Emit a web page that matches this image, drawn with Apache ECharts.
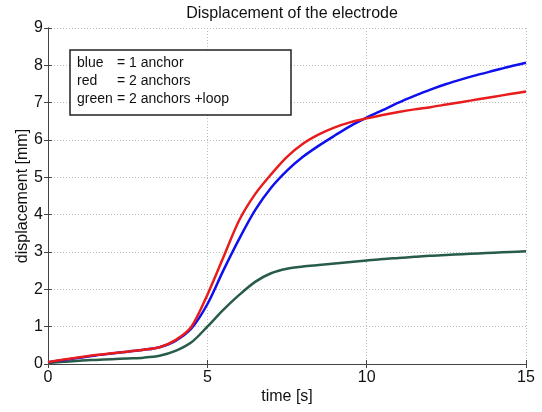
<!DOCTYPE html>
<html lang="en" style="height: 100%">
<head>
  <meta charset="utf-8">
</head>
<body style="height: 100%; margin: 0; background-color: #fff">
  <div id="container" style="width: 542px; height: 412px"></div>
  <script type="text/javascript" src="https://cdn.jsdelivr.net/npm/echarts@6/dist/echarts.min.js"></script>
  <script type="text/javascript">
    // time axis (s), sampled every 0.5 s
    var time = [0, 0.5, 1, 1.5, 2, 2.5, 3, 3.5, 4, 4.5, 5, 5.5, 6, 6.5, 7, 7.5, 8, 8.5, 9, 9.5,
      10, 10.5, 11, 11.5, 12, 12.5, 13, 13.5, 14, 14.5, 15];
    // displacement (mm)
    var blue = [0.05, 0.11, 0.17, 0.23, 0.28, 0.33, 0.38, 0.45, 0.62, 0.95, 1.6, 2.5, 3.35, 4.12, 4.72, 5.18, 5.55, 5.85, 6.12, 6.38,
      6.6, 6.8, 7.0, 7.18, 7.35, 7.5, 7.63, 7.75, 7.86, 7.97, 8.07];
    var red = [0.05, 0.12, 0.18, 0.24, 0.29, 0.33, 0.38, 0.45, 0.64, 1.0, 1.85, 2.85, 3.85, 4.55, 5.08, 5.55, 5.9, 6.15, 6.34, 6.48,
      6.58, 6.67, 6.75, 6.82, 6.88, 6.95, 7.02, 7.09, 7.16, 7.23, 7.3];
    var green = [0.03, 0.06, 0.09, 0.11, 0.13, 0.15, 0.17, 0.22, 0.35, 0.58, 1.0, 1.45, 1.85, 2.2, 2.43, 2.55, 2.61, 2.65, 2.69, 2.73,
      2.77, 2.81, 2.84, 2.87, 2.9, 2.92, 2.94, 2.96, 2.98, 3.0, 3.02];
    var legendLines = [
      ['blue', '= 1 anchor'],
      ['red', '= 2 anchors'],
      ['green', '= 2 anchors +loop']
    ];

    function pairs(ys) {
      return time.map(function (t, i) { return [t, ys[i]]; });
    }

    function lineSeries(name, ys, color) {
      return {
        name: name,
        type: 'line',
        data: pairs(ys),
        showSymbol: false,
        smooth: 0.3,
        lineStyle: { color: color, width: 2.5 },
        animation: false
      };
    }

    var dom = document.getElementById('container');
    var myChart = echarts.init(dom, null, { renderer: 'canvas' });

    var font = 'Liberation Sans';
    var axisFont = { color: '#111', fontSize: 16, fontFamily: font };
    var nameFont = { fontSize: 16, color: '#111', fontFamily: font };
    var boxLine = { show: true, lineStyle: { color: '#444', width: 1 } };
    var grid = { show: true, lineStyle: { color: '#bbb', type: [1, 2], width: 1 } };
    var ticks = { show: true, inside: true, length: 4, lineStyle: { color: '#444' } };
    var legendText = { fontSize: 14, lineHeight: 18, color: '#111', fontFamily: font, fontWeight: 'normal' };

    var option = {
      backgroundColor: '#fff',
      title: [{
        text: 'Displacement of the electrode',
        left: 287, top: 1, textAlign: 'center',
        textStyle: { fontSize: 16, fontWeight: 'normal', color: '#111', fontFamily: font }
      }, {
        text: legendLines.map(function (l) { return '{a|' + l[0] + '}{b|' + l[1] + '}'; }).join('\n'),
        left: 70, top: 48,
        padding: [6, 10, 9, 7],
        borderColor: '#222', borderWidth: 1.5,
        backgroundColor: '#fff',
        textStyle: {
          fontWeight: 'normal',
          rich: {
            a: Object.assign({ width: 40 }, legendText),
            b: Object.assign({ width: 164 }, legendText)
          }
        }
      }],
      grid: { left: 48, right: 16, top: 28, bottom: 48 },
      xAxis: [{
        type: 'value', min: 0, max: 15, interval: 5,
        name: 'time [s]', nameLocation: 'middle', nameGap: 25, nameMoveOverlap: false,
        nameTextStyle: nameFont,
        axisLine: boxLine,
        axisTick: ticks,
        axisLabel: Object.assign({ margin: 6 }, axisFont),
        splitLine: grid
      }, {
        type: 'value', min: 0, max: 15, interval: 5, position: 'top',
        axisLine: boxLine,
        axisTick: ticks,
        axisLabel: { show: false },
        splitLine: { show: false }
      }],
      yAxis: [{
        type: 'value', min: 0, max: 9, interval: 1,
        name: 'displacement [mm]', nameLocation: 'middle', nameGap: 17, nameMoveOverlap: false,
        nameTextStyle: nameFont,
        axisLine: boxLine,
        axisTick: ticks,
        axisLabel: Object.assign({ margin: 5 }, axisFont),
        splitLine: grid
      }, {
        type: 'value', min: 0, max: 9, interval: 1, position: 'right',
        axisLine: boxLine,
        axisTick: ticks,
        axisLabel: { show: false },
        splitLine: { show: false }
      }],
      series: [
        lineSeries('green', green, '#285c48'),
        lineSeries('blue', blue, '#1010ee'),
        lineSeries('red', red, '#e81c1c')
      ]
    };

    myChart.setOption(option);
    window.addEventListener('resize', myChart.resize);
  </script>
</body>
</html>
